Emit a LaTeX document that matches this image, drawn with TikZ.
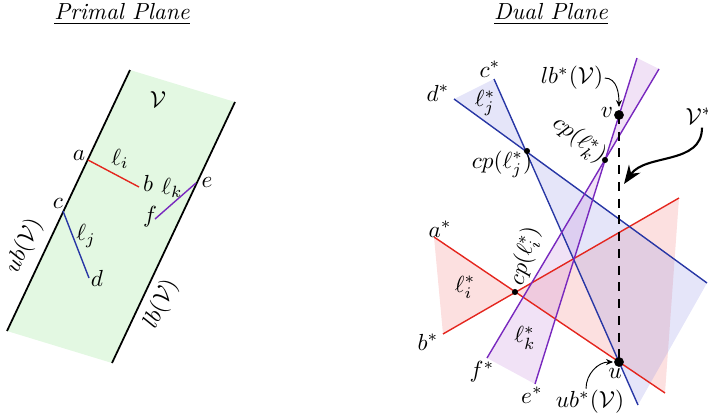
\documentclass[tikz,border=0pt]{standalone}
\usetikzlibrary{arrows.meta}
\definecolor{lred}{RGB}{228,38,30}
\definecolor{lblue}{RGB}{40,55,165}
\definecolor{lpurple}{RGB}{120,40,190}
\definecolor{fgreen}{RGB}{227,248,226}
\definecolor{fred}{RGB}{245,130,130}
\definecolor{fblue}{RGB}{150,150,230}
\definecolor{fpurple}{RGB}{200,140,220}
\tikzset{
  bound/.style={line width=0.75pt,black},
  seg/.style={line width=0.6pt},
  wedge/.style={fill opacity=0.25},
  lab/.style={inner sep=0.5pt},
  sdot/.style={circle,fill=black,inner sep=0pt,minimum size=2.6pt},
  bdot/.style={circle,fill=black,inner sep=0pt,minimum size=4.2pt},
  pointer/.style={line width=0.4pt,-{Stealth[length=3pt,width=2.6pt]}},
}
\begin{document}
\begin{tikzpicture}[x=0.43pt,y=-0.43pt]
\useasboundingbox (0,0) rectangle (708,415);

% titles
\node (tp) at (122,14) {\underline{\textit{Primal Plane}}};
\node (td) at (551,14) {\underline{\textit{Dual Plane}}};

% ---------------- primal plane
\coordinate (UBt) at (130,70);
\coordinate (UBb) at (7,331);
\coordinate (LBt) at (235,102);
\coordinate (LBb) at (112,363);
\fill[fgreen] (UBt) -- (LBt) -- (LBb) -- (UBb) -- cycle;
\draw[bound] (UBt) -- (UBb);
\draw[bound] (LBt) -- (LBb);

\coordinate (a) at (88,160);
\coordinate (b) at (139,187);
\coordinate (c) at (63,211);
\coordinate (d) at (89,278);
\coordinate (e) at (196,183);
\coordinate (f) at (155,219);
\draw[seg,lred] (a) -- (b);
\draw[seg,lblue] (c) -- (d);
\draw[seg,lpurple] (e) -- (f);

\node[lab] (la) at (79,155) {$a$};
\node[lab] (lb) at (148,183) {$b$};
\node[lab] (lli) at (120,159) {$\ell_i$};
\node[lab] (lc) at (58,203) {$c$};
\node[lab] (llj) at (86,236) {$\ell_j$};
\node[lab] (ld) at (97,278) {$d$};
\node[lab] (llk) at (172,188) {$\ell_k$};
\node[lab] (le) at (207,182) {$e$};
\node[lab] (lf) at (150,217) {$f$};
\node[lab] (lV) at (158,100) {$\mathcal{V}$};
\node[lab,rotate=65] (lub) at (24,246) {$ub(\mathcal{V})$};
\node[lab,rotate=65] (llb) at (161,304) {$lb(\mathcal{V})$};

% ---------------- dual plane
\coordinate (cs) at (494,79);
\coordinate (ds) at (454,99);
\coordinate (cpj) at (527,151);
\coordinate (cend) at (638,405);
\coordinate (dend) at (707,283);

\coordinate (as) at (434,237);
\coordinate (bs) at (443,334);
\coordinate (cpi) at (515,292);
\coordinate (aend) at (665,393);
\coordinate (bend) at (679,198);

\coordinate (fs) at (487,358);
\coordinate (es) at (535,384);
\coordinate (cpk) at (605,160);
\coordinate (eend) at (637,58);
\coordinate (fend) at (659,69);

\coordinate (u) at (619,362);
\coordinate (v) at (619,115);

% fills
\fill[fred,wedge] (as) -- (bs) -- (cpi) -- cycle;
\fill[fred,wedge] (cpi) -- (bend) -- (aend) -- cycle;
\fill[fblue,wedge] (cs) -- (ds) -- (cpj) -- cycle;
\fill[fblue,wedge] (cpj) -- (dend) -- (cend) -- cycle;
\fill[fpurple,wedge] (fs) -- (es) -- (cpk) -- cycle;
\fill[fpurple,wedge] (cpk) -- (eend) -- (fend) -- cycle;

% lines
\draw[seg,lred] (as) -- (aend);
\draw[seg,lred] (bs) -- (bend);
\draw[seg,lblue] (cs) -- (cend);
\draw[seg,lblue] (ds) -- (dend);
\draw[seg,lpurple] (es) -- (eend);
\draw[seg,lpurple] (fs) -- (fend);

\draw[line width=0.75pt,dash pattern=on 3.8pt off 3.4pt] (v) -- (u);

\node[sdot] (dj) at (cpj) {};
\node[sdot] (di) at (cpi) {};
\node[sdot] (dk) at (cpk) {};
\node[bdot] (du) at (u) {};
\node[bdot] (dv) at (v) {};

% labels
\node[lab] (lcs) at (490,69) {$c^*$};
\node[lab] (lds) at (438,93) {$d^*$};
\node[lab] (lljs) at (485,103) {$\ell_j^*$};
\node[lab] (lcpj) at (502,164) {$cp(\ell_j^*)$};
\node[lab] (llbs) at (572,78) {$lb^*(\mathcal{V})$};
\node[lab] (lv) at (607,112) {$v$};
\node[lab,rotate=-38] (lcpk) at (579,140) {$cp(\ell_k^*)$};
\node[lab] (lVs) at (699,116) {$\mathcal{V}^*$};
\node[lab] (las) at (440,229) {$a^*$};
\node[lab] (lbs) at (428,342) {$b^*$};
\node[lab] (llis) at (465,287) {$\ell_i^*$};
\node[lab,rotate=75] (lcpi) at (525,256) {$cp(\ell_i^*)$};
\node[lab] (lfs) at (482,372) {$f^*$};
\node[lab] (les) at (532,395) {$e^*$};
\node[lab] (llks) at (525,338) {$\ell_k^*$};
\node[lab] (lu) at (615,373) {$u$};
\node[lab] (lubs) at (590,402) {$ub^*(\mathcal{V})$};

% pointers
\coordinate (vtip) at (619,107);
\coordinate (utip) at (613,362);
\coordinate (Vtip) at (624,184);
\draw[pointer] (llbs.east) to[out=0,in=90] (vtip);
\draw[pointer] (lubs.north) ++(-4,0) to[out=90,in=180] (utip);
\draw[line width=0.9pt,-{Stealth[length=8pt,width=6pt]}] (lVs.south) ++(3,2) to[out=-90,in=55] (Vtip);
\end{tikzpicture}
\end{document}
